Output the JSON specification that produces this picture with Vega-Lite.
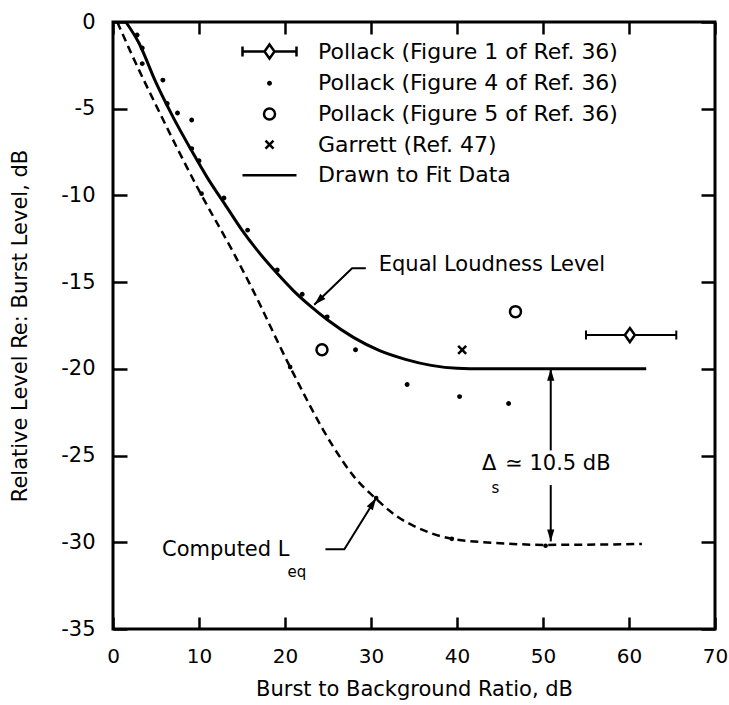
{
  "$schema": "https://vega.github.io/schema/vega-lite/v6.json",
  "width": 602,
  "height": 607,
  "autosize": {"type": "none"},
  "padding": {"left": 113, "top": 22, "right": 14, "bottom": 76},
  "background": "white",
  "config": {
    "font": "DejaVu Sans",
    "view": {"stroke": "black", "strokeWidth": 3},
    "axis": {
      "domain": false, "grid": false,
      "labelFont": "DejaVu Sans", "labelFontSize": 21, "labelColor": "black", "labelFlush": false,
      "tickColor": "black", "tickWidth": 2.5,
      "titleFont": "DejaVu Sans", "titleFontSize": 21, "titleFontWeight": "normal", "titleColor": "black"
    },
    "text": {"font": "DejaVu Sans", "color": "black"}
  },
  "datasets": {
    "fit": [
      {"x": 1.5, "y": 0}, {"x": 3, "y": -1.2}, {"x": 5, "y": -3.5}, {"x": 7, "y": -5.5},
      {"x": 9, "y": -7.3}, {"x": 11, "y": -9.0}, {"x": 13, "y": -10.5}, {"x": 15, "y": -12.0},
      {"x": 17, "y": -13.3}, {"x": 19, "y": -14.45}, {"x": 21, "y": -15.5}, {"x": 23, "y": -16.4},
      {"x": 25, "y": -17.2}, {"x": 28, "y": -18.2}, {"x": 31, "y": -18.95}, {"x": 34, "y": -19.45},
      {"x": 37, "y": -19.8}, {"x": 40, "y": -19.97}, {"x": 43, "y": -20}, {"x": 62, "y": -20}
    ],
    "computed": [
      {"x": 0.5, "y": 0}, {"x": 2.3, "y": -2.0}, {"x": 5, "y": -4.8}, {"x": 10.2, "y": -9.9},
      {"x": 13.9, "y": -13.2}, {"x": 15.9, "y": -15.1}, {"x": 20.6, "y": -19.9}, {"x": 25.5, "y": -24.4},
      {"x": 28, "y": -26.2}, {"x": 30.6, "y": -27.5}, {"x": 33, "y": -28.5}, {"x": 35.6, "y": -29.2},
      {"x": 39.4, "y": -29.8}, {"x": 45, "y": -30.05}, {"x": 50.3, "y": -30.15}, {"x": 61.5, "y": -30.1}
    ],
    "computedPoints": [
      {"x": 10.3, "y": -9.9}, {"x": 20.6, "y": -19.9}, {"x": 30.6, "y": -27.45}, {"x": 39.4, "y": -29.8}, {"x": 50.3, "y": -30.2}
    ],
    "points": [
      {"series": "Pollack (Figure 4 of Ref. 36)", "x": 2.8, "y": -0.75},
      {"series": "Pollack (Figure 4 of Ref. 36)", "x": 3.4, "y": -1.5},
      {"series": "Pollack (Figure 4 of Ref. 36)", "x": 3.4, "y": -2.4},
      {"series": "Pollack (Figure 4 of Ref. 36)", "x": 5.8, "y": -3.35},
      {"series": "Pollack (Figure 4 of Ref. 36)", "x": 6.3, "y": -4.7},
      {"series": "Pollack (Figure 4 of Ref. 36)", "x": 7.5, "y": -5.25},
      {"series": "Pollack (Figure 4 of Ref. 36)", "x": 9.15, "y": -5.65},
      {"series": "Pollack (Figure 4 of Ref. 36)", "x": 9.15, "y": -7.3},
      {"series": "Pollack (Figure 4 of Ref. 36)", "x": 10.0, "y": -8.0},
      {"series": "Pollack (Figure 4 of Ref. 36)", "x": 12.9, "y": -10.15},
      {"series": "Pollack (Figure 4 of Ref. 36)", "x": 15.65, "y": -12.0},
      {"series": "Pollack (Figure 4 of Ref. 36)", "x": 19.1, "y": -14.3},
      {"series": "Pollack (Figure 4 of Ref. 36)", "x": 22.0, "y": -15.7},
      {"series": "Pollack (Figure 4 of Ref. 36)", "x": 24.9, "y": -17.0},
      {"series": "Pollack (Figure 4 of Ref. 36)", "x": 28.2, "y": -18.9},
      {"series": "Pollack (Figure 4 of Ref. 36)", "x": 34.2, "y": -20.9},
      {"series": "Pollack (Figure 4 of Ref. 36)", "x": 40.3, "y": -21.6},
      {"series": "Pollack (Figure 4 of Ref. 36)", "x": 46.0, "y": -22.0},
      {"series": "Pollack (Figure 5 of Ref. 36)", "x": 24.3, "y": -18.9},
      {"series": "Pollack (Figure 5 of Ref. 36)", "x": 46.8, "y": -16.7},
      {"series": "Garrett (Ref. 47)", "x": 40.6, "y": -18.9}
    ],
    "fig1": [
      {"x": 60.1, "y": -18.05, "xlo": 55.0, "xhi": 65.5}
    ],
    "labels": [
      {"x": 30.9, "y": -14.0, "text": "Equal Loudness Level"},
      {"x": 5.7, "y": -30.45, "text": "Computed L"},
      {"x": 42.9, "y": -25.5, "text": "Δ"},
      {"x": 45.6, "y": -25.5, "text": "≃ 10.5 dB"}
    ],
    "subscripts": [
      {"x": 20.3, "y": -31.7, "text": "eq"},
      {"x": 44.0, "y": -26.85, "text": "s"}
    ],
    "leaders": [
      {"leader": "A", "order": 1, "x": 29.4, "y": -14.2},
      {"leader": "A", "order": 2, "x": 27.8, "y": -14.2},
      {"leader": "A", "order": 3, "x": 23.4, "y": -16.3},
      {"leader": "B", "order": 1, "x": 24.7, "y": -30.4},
      {"leader": "B", "order": 2, "x": 26.9, "y": -30.4},
      {"leader": "B", "order": 3, "x": 30.6, "y": -27.45},
      {"leader": "C", "order": 1, "x": 50.9, "y": -20.0},
      {"leader": "C", "order": 2, "x": 50.9, "y": -24.7},
      {"leader": "D", "order": 1, "x": 50.9, "y": -26.7},
      {"leader": "D", "order": 2, "x": 50.9, "y": -29.95}
    ],
    "arrowheads": [
      {"arrow": "A", "x": 23.4, "y": -16.3},
      {"arrow": "B", "x": 30.6, "y": -27.45},
      {"arrow": "C", "x": 50.9, "y": -20.0},
      {"arrow": "D", "x": 50.9, "y": -29.95}
    ]
  },
  "layer": [
    {
      "data": {"name": "fit"},
      "mark": {"type": "line", "color": "black", "strokeWidth": 3, "interpolate": "monotone"},
      "encoding": {
        "x": {"field": "x", "type": "quantitative", "scale": {"domain": [0, 70], "nice": false, "zero": false},
          "axis": {"orient": "bottom", "values": [0, 10, 20, 30, 40, 50, 60, 70], "tickSize": -12, "labelPadding": 29, "labelFontSize": 20,
            "title": "Burst to Background Ratio, dB", "titlePadding": 12}},
        "y": {"field": "y", "type": "quantitative", "scale": {"domain": [-35, 0], "nice": false, "zero": false},
          "axis": {"orient": "left", "values": [0, -5, -10, -15, -20, -25, -30, -35], "tickSize": -14, "labelPadding": 32,
            "labelExpr": "datum.value == 0 ? '0' : '-' + abs(datum.value)",
            "title": "Relative Level Re: Burst Level, dB", "titlePadding": 30}}
      }
    },
    {
      "data": {"name": "computed"},
      "mark": {"type": "line", "color": "black", "strokeWidth": 2.5, "strokeDash": [8, 5], "interpolate": "monotone"},
      "encoding": {
        "x": {"field": "x", "type": "quantitative",
          "axis": {"orient": "top", "values": [0, 10, 20, 30, 40, 50, 60, 70], "tickSize": -12, "labels": false, "title": null}},
        "y": {"field": "y", "type": "quantitative",
          "axis": {"orient": "right", "values": [0, -5, -10, -15, -20, -25, -30, -35], "tickSize": -14, "labels": false, "title": null}}
      }
    },
    {
      "data": {"name": "computedPoints"},
      "mark": {"type": "circle", "color": "black", "size": 22, "opacity": 1},
      "encoding": {
        "x": {"field": "x", "type": "quantitative", "axis": null},
        "y": {"field": "y", "type": "quantitative", "axis": null}
      }
    },
    {
      "data": {"name": "leaders"},
      "mark": {"type": "line", "color": "black", "strokeWidth": 2},
      "encoding": {
        "x": {"field": "x", "type": "quantitative", "axis": null},
        "y": {"field": "y", "type": "quantitative", "axis": null},
        "detail": {"field": "leader"},
        "order": {"field": "order"}
      }
    },
    {
      "data": {"name": "arrowheads"},
      "transform": [{"filter": "datum.arrow == 'A'"}],
      "mark": {"type": "point", "shape": "M0,0L0.6,2L-0.6,2Z", "size": 144, "filled": true, "color": "black", "opacity": 1, "angle": 226},
      "encoding": {
        "x": {"field": "x", "type": "quantitative", "axis": null},
        "y": {"field": "y", "type": "quantitative", "axis": null}
      }
    },
    {
      "data": {"name": "arrowheads"},
      "transform": [{"filter": "datum.arrow == 'B'"}],
      "mark": {"type": "point", "shape": "M0,0L0.6,2L-0.6,2Z", "size": 144, "filled": true, "color": "black", "opacity": 1, "angle": 32},
      "encoding": {
        "x": {"field": "x", "type": "quantitative", "axis": null},
        "y": {"field": "y", "type": "quantitative", "axis": null}
      }
    },
    {
      "data": {"name": "arrowheads"},
      "transform": [{"filter": "datum.arrow == 'C'"}],
      "mark": {"type": "point", "shape": "M0,0L0.6,2L-0.6,2Z", "size": 144, "filled": true, "color": "black", "opacity": 1, "angle": 0},
      "encoding": {
        "x": {"field": "x", "type": "quantitative", "axis": null},
        "y": {"field": "y", "type": "quantitative", "axis": null}
      }
    },
    {
      "data": {"name": "arrowheads"},
      "transform": [{"filter": "datum.arrow == 'D'"}],
      "mark": {"type": "point", "shape": "M0,0L0.6,2L-0.6,2Z", "size": 144, "filled": true, "color": "black", "opacity": 1, "angle": 180},
      "encoding": {
        "x": {"field": "x", "type": "quantitative", "axis": null},
        "y": {"field": "y", "type": "quantitative", "axis": null}
      }
    },
    {
      "data": {"name": "fig1"},
      "mark": {"type": "rule", "color": "black", "strokeWidth": 2},
      "encoding": {
        "x": {"field": "xlo", "type": "quantitative", "axis": null},
        "x2": {"field": "xhi"},
        "y": {"field": "y", "type": "quantitative", "axis": null}
      }
    },
    {
      "data": {"name": "fig1"},
      "mark": {"type": "point", "shape": "M0,-1V1", "size": 81, "filled": false, "stroke": "black", "strokeWidth": 2, "opacity": 1},
      "encoding": {
        "x": {"field": "xlo", "type": "quantitative", "axis": null},
        "y": {"field": "y", "type": "quantitative", "axis": null}
      }
    },
    {
      "data": {"name": "fig1"},
      "mark": {"type": "point", "shape": "M0,-1V1", "size": 81, "filled": false, "stroke": "black", "strokeWidth": 2, "opacity": 1},
      "encoding": {
        "x": {"field": "xhi", "type": "quantitative", "axis": null},
        "y": {"field": "y", "type": "quantitative", "axis": null}
      }
    },
    {
      "data": {"name": "fig1"},
      "mark": {"type": "point", "shape": "M0,-0.7L0.5,0L0,0.7L-0.5,0Z", "size": 400, "filled": true, "fill": "white", "stroke": "black", "strokeWidth": 2.5, "opacity": 1},
      "encoding": {
        "x": {"field": "x", "type": "quantitative", "axis": null},
        "y": {"field": "y", "type": "quantitative", "axis": null}
      }
    },
    {
      "data": {"name": "points"},
      "mark": {"type": "point", "filled": false, "stroke": "black", "strokeWidth": 2.5, "size": 400, "opacity": 1},
      "encoding": {
        "x": {"field": "x", "type": "quantitative", "axis": null},
        "y": {"field": "y", "type": "quantitative", "axis": null},
        "shape": {
          "field": "series", "type": "nominal",
          "scale": {
            "domain": ["Pollack (Figure 1 of Ref. 36)", "Pollack (Figure 4 of Ref. 36)", "Pollack (Figure 5 of Ref. 36)", "Garrett (Ref. 47)", "Drawn to Fit Data"],
            "range": [
              "M-2.7,0H-0.5M0.5,0H2.7M-2.7,-0.5V0.5M2.7,-0.5V0.5M0,-0.7L0.5,0L0,0.7L-0.5,0Z",
              "M0.12,0A0.12,0.12,0,1,1,-0.12,0A0.12,0.12,0,1,1,0.12,0Z",
              "M0.55,0A0.55,0.55,0,1,1,-0.55,0A0.55,0.55,0,1,1,0.55,0Z",
              "M-0.4,-0.4L0.4,0.4M-0.4,0.4L0.4,-0.4",
              "M-2.7,0H2.7"
            ]
          },
          "legend": {
            "title": null, "orient": "none", "legendX": 145, "legendY": 18, "padding": 0,
            "labelFont": "DejaVu Sans", "labelFontSize": 22, "labelColor": "black", "labelLimit": 0,
            "symbolSize": 400, "symbolStrokeWidth": 2.5, "symbolStrokeColor": "black", "symbolFillColor": "transparent",
            "labelOffset": 37, "rowPadding": 7.7
          }
        }
      }
    },
    {
      "data": {"name": "labels"},
      "mark": {"type": "text", "align": "left", "baseline": "middle", "fontSize": 21, "font": "DejaVu Sans", "color": "black"},
      "encoding": {
        "x": {"field": "x", "type": "quantitative", "axis": null},
        "y": {"field": "y", "type": "quantitative", "axis": null},
        "text": {"field": "text"}
      }
    },
    {
      "data": {"name": "subscripts"},
      "mark": {"type": "text", "align": "left", "baseline": "middle", "fontSize": 15, "font": "DejaVu Sans", "color": "black"},
      "encoding": {
        "x": {"field": "x", "type": "quantitative", "axis": null},
        "y": {"field": "y", "type": "quantitative", "axis": null},
        "text": {"field": "text"}
      }
    }
  ],
  "resolve": {"axis": {"x": "independent", "y": "independent"}}
}
